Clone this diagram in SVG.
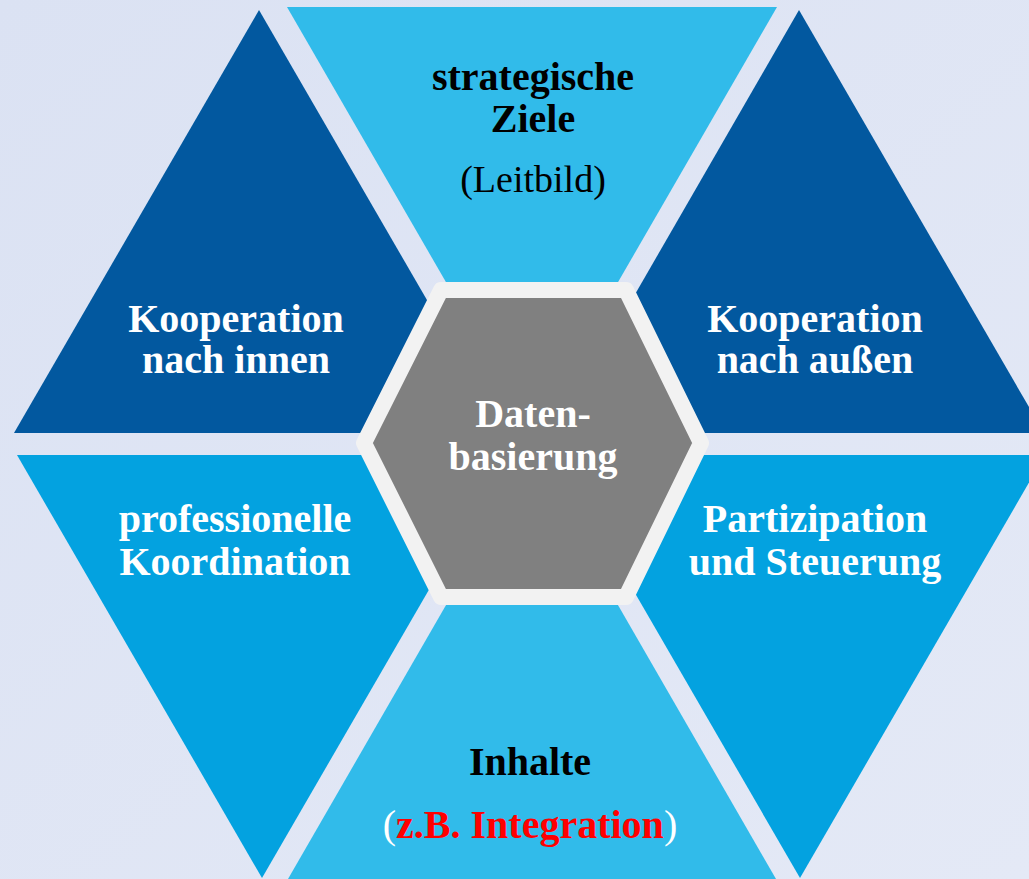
<svg xmlns="http://www.w3.org/2000/svg" width="1029" height="879" viewBox="0 0 1029 879">
<defs>
<linearGradient id="bg" x1="0" y1="0" x2="1" y2="1">
<stop offset="0" stop-color="#dbe2f3"/>
<stop offset="1" stop-color="#e4e9f6"/>
</linearGradient>
</defs>
<style>
.dark{fill:#02589f}
.cyan{fill:#31bbea}
.mid{fill:#03a2e0}
.hex{fill:#808080;stroke:#f2f2f2;stroke-width:16;stroke-linejoin:round}
text{font-family:"Liberation Serif","Times New Roman",serif;font-size:40px;text-anchor:middle}
.b{font-weight:bold}
.w{fill:#ffffff}
.k{fill:#000000}
.r{fill:#ff0000}
</style>
<rect width="1029" height="879" fill="url(#bg)"/>
<g id="strategische-ziele">
<polygon class="cyan" points="287,7 777,7 532,431"/>
<text class="b k" x="533" y="90">strategische</text>
<text class="b k" x="533" y="132">Ziele</text>
<text class="k" x="533" y="192" style="font-size:38px">(Leitbild)</text>
</g>
<g id="kooperation-innen">
<polygon class="dark" points="259,10 504,433 14,433"/>
<text class="b w" x="236" y="332">Kooperation</text>
<text class="b w" x="236" y="373">nach innen</text>
</g>
<g id="kooperation-aussen">
<polygon class="dark" points="799,10 1044,433 555,433"/>
<text class="b w" x="815" y="332">Kooperation</text>
<text class="b w" x="815" y="373">nach außen</text>
</g>
<g id="professionelle-koordination">
<polygon class="mid" points="17,455 507,455 262,878"/>
<text class="b w" x="235" y="532">professionelle</text>
<text class="b w" x="235" y="575">Koordination</text>
</g>
<g id="partizipation">
<polygon class="mid" points="555,455 1045,455 800,878"/>
<text class="b w" x="815" y="532">Partizipation</text>
<text class="b w" x="815" y="575">und Steuerung</text>
</g>
<g id="inhalte">
<polygon class="cyan" points="532,456 776,879 288,879"/>
<text class="b k" x="530" y="775">Inhalte</text>
<text x="530" y="838"><tspan class="w">(</tspan><tspan class="b r">z.B. Integration</tspan><tspan class="w">)</tspan></text>
</g>
<g id="datenbasierung">
<polygon class="hex" points="441,290 626,290 701,443 626,597 441,597 364,443"/>
<text class="b w" x="533" y="427">Daten-</text>
<text class="b w" x="533" y="470">basierung</text>
</g>
<g id="connectors"></g>
</svg>
